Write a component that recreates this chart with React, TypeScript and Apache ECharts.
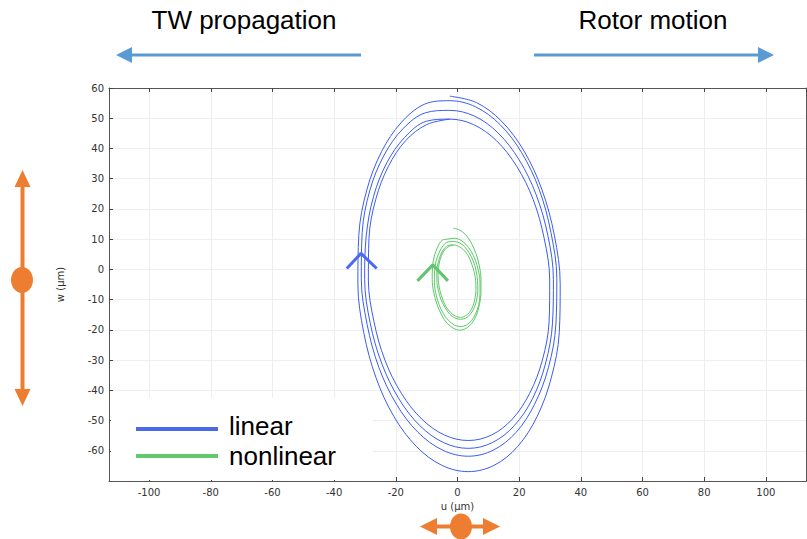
import React, { useEffect, useRef } from 'react';
import * as echarts from 'echarts';

// ---- Data (u, w in µm) ----
const linearLoop1: number[][] = [
  [-2.5, 57.3], [6.1, 55.2], [14.3, 49.0], [21.6, 39.1], [27.4, 26.3], [31.4, 11.3],
  [33.3, -4.8], [33.0, -20.9], [30.4, -35.9], [25.8, -48.7], [19.5, -58.6], [11.9, -64.8],
  [3.5, -66.9], [-5.1, -64.8], [-13.3, -58.6], [-20.6, -48.7], [-26.4, -35.9], [-30.4, -20.9],
  [-32.3, -4.8], [-32.0, 11.3], [-29.4, 26.3], [-24.6, 39.0], [-18.3, 48.5], [-10.8, 54.6],
];
const linearLoop2: number[][] = [
  [-2.5, 55.8], [5.8, 53.8], [13.8, 47.9], [20.8, 38.6], [26.5, 26.4], [30.3, 12.2],
  [32.2, -3.0], [31.9, -18.2], [29.5, -32.4], [25.0, -44.6], [19.0, -53.9], [11.6, -59.8],
  [3.5, -61.8], [-4.8, -59.8], [-12.8, -53.9], [-19.8, -44.6], [-25.5, -32.4], [-29.3, -18.2],
  [-31.2, -3.0], [-30.9, 12.2], [-28.4, 26.2], [-23.8, 37.8], [-17.7, 46.5], [-10.4, 51.8],
];
const linearLoop3: number[][] = [
  [-2.5, 52.6], [5.5, 50.7], [13.2, 45.1], [20.0, 36.2], [25.5, 24.7], [29.3, 11.2],
  [31.1, -3.3], [30.8, -17.8], [28.5, -31.3], [24.3, -42.8], [18.4, -51.7], [11.3, -57.3],
  [3.5, -59.2], [-4.5, -57.3], [-12.2, -51.7], [-19.0, -42.8], [-24.5, -31.3], [-28.3, -17.8],
  [-30.1, -3.3], [-29.6, 11.0], [-27.2, 24.2], [-22.9, 35.3], [-17.1, 43.7], [-10.1, 49.0],
];
const linearLoop4: number[][] = [
  [-2.5, 49.7], [5.2, 47.9], [12.6, 42.6], [19.2, 34.1], [24.5, 23.2], [28.1, 10.3],
  [29.9, -3.5], [29.7, -17.2], [27.5, -30.1], [23.4, -41.0], [17.8, -49.5], [11.0, -54.8],
  [3.5, -56.6], [-4.2, -54.8], [-11.6, -49.5], [-18.2, -41.0], [-23.5, -30.1], [-27.1, -17.2],
  [-28.9, -3.5], [-28.7, 10.3], [-26.5, 23.2], [-22.4, 34.1], [-16.8, 42.6], [-10.0, 47.9],
  [-2.5, 49.7],
];
const nonlinearLoop1: number[][] = [
  [-1.4, 13.6], [0.7, 13.0], [2.7, 11.4], [4.5, 8.7], [6.0, 5.2], [7.1, 1.1],
  [7.6, -3.3], [7.6, -7.6], [7.1, -11.7], [6.1, -15.2], [4.6, -17.9], [2.8, -19.5],
  [0.8, -20.1], [-1.3, -19.5], [-3.3, -17.9], [-5.1, -15.2], [-6.6, -11.7], [-7.7, -7.6],
  [-8.2, -3.3], [-8.1, 0.8], [-7.5, 4.4], [-6.4, 7.5], [-5.0, 9.6], [-3.2, 10.0],
];
const nonlinearLoop2: number[][] = [
  [-1.2, 10.3], [0.8, 9.8], [2.7, 8.3], [4.4, 6.0], [5.8, 3.0], [6.8, -0.5],
  [7.3, -4.3], [7.3, -8.1], [6.9, -11.6], [5.9, -14.6], [4.6, -16.9], [2.9, -18.4],
  [1.0, -18.9], [-1.0, -18.4], [-2.9, -16.9], [-4.6, -14.6], [-6.0, -11.6], [-7.0, -8.1],
  [-7.5, -4.3], [-7.4, -0.4], [-6.9, 2.9], [-5.9, 5.7], [-4.6, 7.9], [-3.0, 9.1],
];
const nonlinearLoop3: number[][] = [
  [-1.2, 9.2], [0.6, 8.8], [2.3, 7.5], [3.8, 5.4], [5.1, 2.8], [6.0, -0.3],
  [6.5, -3.7], [6.6, -7.0], [6.2, -10.1], [5.4, -12.7], [4.2, -14.8], [2.7, -16.1],
  [1.0, -16.5], [-0.8, -16.1], [-2.5, -14.8], [-4.0, -12.7], [-5.3, -10.1], [-6.2, -7.0],
  [-6.7, -3.7], [-6.7, -0.4], [-6.2, 2.5], [-5.4, 5.0], [-4.2, 7.0], [-2.8, 8.0],
];
const nonlinearLoop4: number[][] = [
  [-1.3, 8.1], [0.4, 7.6], [1.9, 6.5], [3.4, 4.6], [4.5, 2.1], [5.4, -0.8],
  [5.9, -3.9], [6.0, -7.0], [5.6, -9.9], [4.9, -12.4], [3.8, -14.3], [2.5, -15.4],
  [1.0, -15.9], [-0.7, -15.4], [-2.2, -14.3], [-3.7, -12.4], [-4.8, -9.9], [-5.7, -7.0],
  [-6.2, -3.9], [-6.3, -0.8], [-5.9, 2.1], [-5.2, 4.6], [-4.1, 6.5], [-2.8, 7.6],
  [-1.3, 8.1],
];
const linearArrow: number[][] = [[-35.9, 0.3], [-31.3, 5.3], [-26.2, 0.3]];
const nonlinearArrow: number[][] = [[-13.0, -3.8], [-8.0, 1.5], [-3.1, -3.8]];

const legendNames = ['linear', 'nonlinear'];
const headerLabels = ['TW propagation', 'Rotor motion'];
const xName = 'u (µm)';
const yName = 'w (µm)';

const BLUE = '#3a5cf0';
const GREEN = '#5cc867';
const ORANGE = '#ed7d31';
const ARROW_BLUE = '#5b9bd5';

export default function App() {
  const ref = useRef<HTMLDivElement>(null);
  useEffect(() => {
    if (!ref.current) return;
    const chart = echarts.init(ref.current, null, { renderer: 'svg' });
    const axisFont = { fontFamily: 'DejaVu Sans', fontSize: 10, color: '#333' };
    const axisLine = { show: true, onZero: false, lineStyle: { color: '#555', width: 1 } };
    const tick = { show: true, inside: true, length: 4, lineStyle: { color: '#444' } };
    const split = { show: true, lineStyle: { color: '#eeeeee', width: 1 } };
    const font = 'Liberation Sans';
    chart.setOption({
      animation: false,
      backgroundColor: '#fff',
      grid: { left: 109, right: 1, top: 88, bottom: 58, containLabel: false },
      xAxis: [
        {
          type: 'value', min: -113, max: 113, splitNumber: 11, position: 'bottom',
          name: xName, nameLocation: 'middle', nameGap: 15,
          nameTextStyle: { ...axisFont },
          axisLine, axisTick: tick, splitLine: split,
          axisLabel: { ...axisFont, margin: 6, showMinLabel: false, showMaxLabel: false },
        },
        {
          type: 'value', min: -113, max: 113, splitNumber: 11, position: 'top',
          axisLine, axisTick: tick, splitLine: { show: false }, axisLabel: { show: false },
        },
      ],
      yAxis: [
        {
          type: 'value', min: -70, max: 60, interval: 10, position: 'left',
          name: yName, nameLocation: 'middle', nameGap: 44,
          nameTextStyle: { ...axisFont },
          axisLine, axisTick: tick, splitLine: split,
          axisLabel: { ...axisFont, margin: 5, showMinLabel: false },
        },
        {
          type: 'value', min: -70, max: 60, interval: 10, position: 'right',
          axisLine, axisTick: { show: false }, splitLine: { show: false }, axisLabel: { show: false },
        },
      ],
      series: [
        {
          name: legendNames[0], type: 'line', smooth: 0.35, showSymbol: false, z: 3,
          data: [...linearLoop1, ...linearLoop2, ...linearLoop3, ...linearLoop4],
          lineStyle: { color: BLUE, width: 1 },
        },
        {
          name: legendNames[1], type: 'line', smooth: 0.35, showSymbol: false, z: 3,
          data: [...nonlinearLoop1, ...nonlinearLoop2, ...nonlinearLoop3, ...nonlinearLoop4],
          lineStyle: { color: GREEN, width: 1 },
        },
        {
          type: 'line', showSymbol: false, data: linearArrow, z: 4,
          lineStyle: { color: '#4a6af2', width: 3 },
        },
        {
          type: 'line', showSymbol: false, data: nonlinearArrow, z: 4,
          lineStyle: { color: '#62c46e', width: 3 },
        },
      ],
      graphic: [
        // legend box
        { type: 'rect', z: 1, shape: { x: 111, y: 398, width: 262, height: 82 }, style: { fill: '#fff' } },
        { type: 'line', z: 5, shape: { x1: 136, y1: 429, x2: 218, y2: 429 }, style: { stroke: '#4a6ae8', lineWidth: 4 } },
        { type: 'line', z: 5, shape: { x1: 136, y1: 456, x2: 218, y2: 456 }, style: { stroke: '#62c870', lineWidth: 4 } },
        { type: 'text', z: 5, x: 229, y: 426, style: { text: legendNames[0], fontSize: 26, fontFamily: font, fill: '#000', align: 'left', verticalAlign: 'middle', textAlign: 'left', textVerticalAlign: 'middle' } },
        { type: 'text', z: 5, x: 229, y: 456, style: { text: legendNames[1], fontSize: 26, fontFamily: font, fill: '#000', align: 'left', verticalAlign: 'middle', textAlign: 'left', textVerticalAlign: 'middle' } },
        // header texts
        { type: 'text', x: 244, y: 20, style: { text: headerLabels[0], fontSize: 26, fontFamily: font, fill: '#000', align: 'center', verticalAlign: 'middle', textAlign: 'center', textVerticalAlign: 'middle' } },
        { type: 'text', x: 653, y: 20, style: { text: headerLabels[1], fontSize: 26, fontFamily: font, fill: '#000', align: 'center', verticalAlign: 'middle', textAlign: 'center', textVerticalAlign: 'middle' } },
        // blue arrows
        { type: 'line', shape: { x1: 128, y1: 55, x2: 361, y2: 55 }, style: { stroke: ARROW_BLUE, lineWidth: 3 } },
        { type: 'polygon', shape: { points: [[116, 55], [132, 47], [132, 63]] }, style: { fill: ARROW_BLUE } },
        { type: 'line', shape: { x1: 534, y1: 55, x2: 762, y2: 55 }, style: { stroke: ARROW_BLUE, lineWidth: 3 } },
        { type: 'polygon', shape: { points: [[774, 55], [758, 47], [758, 63]] }, style: { fill: ARROW_BLUE } },
        // orange vertical
        { type: 'line', shape: { x1: 22.5, y1: 182, x2: 22.5, y2: 394 }, style: { stroke: ORANGE, lineWidth: 4 } },
        { type: 'polygon', shape: { points: [[22.5, 170], [14.5, 187], [30.5, 187]] }, style: { fill: ORANGE } },
        { type: 'polygon', shape: { points: [[22.5, 406], [14.5, 389], [30.5, 389]] }, style: { fill: ORANGE } },
        { type: 'ellipse', shape: { cx: 22, cy: 280, rx: 11, ry: 13 }, style: { fill: ORANGE } },
        // orange horizontal
        { type: 'line', shape: { x1: 430, y1: 526.5, x2: 490, y2: 526.5 }, style: { stroke: ORANGE, lineWidth: 4 } },
        { type: 'polygon', shape: { points: [[420, 526.5], [437, 518], [437, 535]] }, style: { fill: ORANGE } },
        { type: 'polygon', shape: { points: [[500, 526.5], [483, 518], [483, 535]] }, style: { fill: ORANGE } },
        { type: 'ellipse', shape: { cx: 461, cy: 526.5, rx: 11, ry: 13 }, style: { fill: ORANGE } },
      ],
    });
    return () => chart.dispose();
  }, []);
  return <div ref={ref} style={{ position: 'absolute', left: 0, top: 0, width: 807, height: 539 }} />;
}
